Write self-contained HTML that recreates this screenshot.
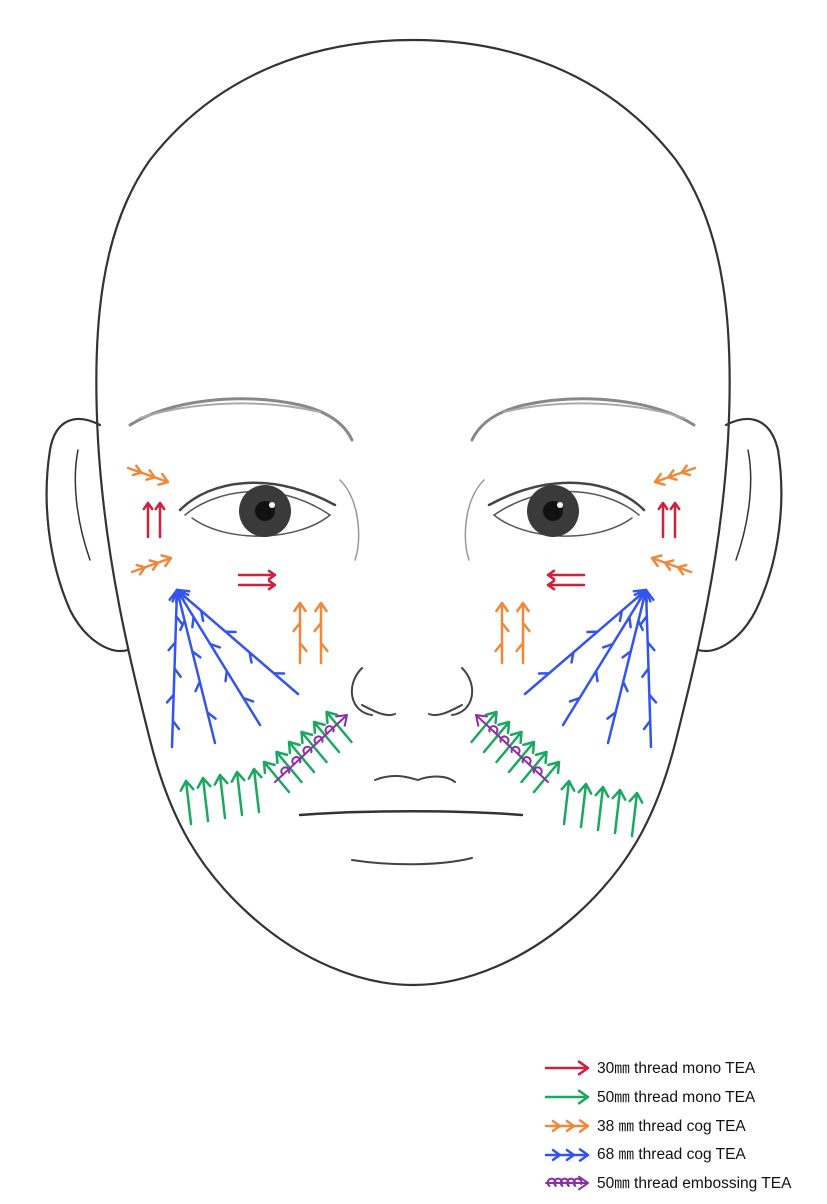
<!DOCTYPE html>
<html><head><meta charset="utf-8"><style>
html,body{margin:0;padding:0;background:#fff;}
svg{display:block;}
text{font-family:"Liberation Sans","Noto Sans CJK KR",sans-serif;}
</style></head><body>
<svg id="s" width="827" height="1204" viewBox="0 0 827 1204" xmlns="http://www.w3.org/2000/svg">
<g fill="none" stroke="#333" stroke-width="2.2" stroke-linecap="round">
<path d="M413,985 C360,985 300,960 250,915 C200,870 170,820 150,740 C130,660 105,560 98,440 C92,330 100,230 150,160 C220,70 320,40 413,40 C506,40 606,70 676,160 C726,230 734,330 728,440 C721,560 696,660 676,740 C656,820 626,870 576,915 C526,960 466,985 413,985"/>
<path d="M100,425 C75,412 55,420 50,450 C42,500 48,560 70,610 C85,640 110,655 128,650" />
<path d="M78,450 C72,480 76,520 90,560" stroke-width="1.5"/>
<path d="M726,425 C751,412 771,420 778,450 C786,500 780,560 756,610 C741,640 716,655 698,650"/>
<path d="M748,450 C754,480 750,520 736,560" stroke-width="1.5"/>
</g>
<g fill="none" stroke="#555" stroke-width="1.5" stroke-linecap="round">
<path d="M130,425 C170,400 240,392 300,405 C330,412 345,425 352,440" stroke-width="3" stroke="#888"/>
<path d="M140,418 C190,402 260,398 320,412" stroke="#aaa" stroke-width="2"/>
<path d="M694,425 C654,400 584,392 524,405 C494,412 479,425 472,440" stroke-width="3" stroke="#888"/>
<path d="M684,418 C634,402 564,398 504,412" stroke="#aaa" stroke-width="2"/>
<path d="M185,515 C215,490 275,478 330,515 C300,540 230,545 192,518"/>
<path d="M180,510 C210,480 270,470 335,505" stroke="#444" stroke-width="2.5"/>
<path d="M639,515 C609,490 549,478 494,515 C524,540 594,545 632,518"/>
<path d="M644,510 C614,480 554,470 489,505" stroke="#444" stroke-width="2.5"/>
<path d="M340,480 C360,500 362,540 355,560" stroke="#999"/>
<path d="M484,480 C464,500 462,540 469,560" stroke="#999"/>
<path d="M362,668 C345,685 350,712 372,715 M362,705 C372,710 385,718 395,714" stroke="#444" stroke-width="2"/>
<path d="M462,668 C479,685 474,712 452,715 M462,705 C452,710 439,718 429,714" stroke="#444" stroke-width="2"/>
<path d="M375,780 C395,772 410,778 418,780 C428,776 445,774 455,782" stroke="#444" stroke-width="2"/>
<path d="M300,815 C360,810 460,810 522,815" stroke="#333" stroke-width="2.5"/>
<path d="M352,860 C390,866 440,866 472,858" stroke="#444" stroke-width="2"/>
</g>
<circle cx="265" cy="511" r="26" fill="#3a3a3a"/><circle cx="265" cy="511" r="10" fill="#111"/><circle cx="272" cy="505" r="3" fill="#fff"/>
<circle cx="553" cy="511" r="26" fill="#3a3a3a"/><circle cx="553" cy="511" r="10" fill="#111"/><circle cx="560" cy="505" r="3" fill="#fff"/>
<g id="L"></g>
<g id="R" transform="translate(823,0) scale(-1,1)"></g>
<g id="G"></g>
<g font-size="15.5" fill="#111">
<text x="597" y="1073">30㎜ thread mono TEA</text>
<text x="597" y="1102">50㎜ thread mono TEA</text>
<text x="597" y="1131">38 ㎜ thread cog TEA</text>
<text x="597" y="1159">68 ㎜ thread cog TEA</text>
<text x="597" y="1188">50㎜ thread embossing TEA</text>
</g>
</svg>
<script>
var NS="http://www.w3.org/2000/svg";
function P(g,d,c,w){var p=document.createElementNS(NS,"path");p.setAttribute("d",d);p.setAttribute("fill","none");p.setAttribute("stroke",c);p.setAttribute("stroke-width",w||2.5);p.setAttribute("stroke-linecap","round");p.setAttribute("stroke-linejoin","round");g.appendChild(p);}
function head(x1,y1,x2,y2,s){var dx=x2-x1,dy=y2-y1,L=Math.hypot(dx,dy),ux=dx/L,uy=dy/L,px=-uy,py=ux;
return "M"+(x2-ux*s+px*s*0.7)+","+(y2-uy*s+py*s*0.7)+" L"+x2+","+y2+" L"+(x2-ux*s-px*s*0.7)+","+(y2-uy*s-py*s*0.7);}
function mono(g,x1,y1,x2,y2,c,s){P(g,"M"+x1+","+y1+" L"+x2+","+y2+" "+head(x1,y1,x2,y2,s||9),c);}
function cog(g,x1,y1,x2,y2,n,c,s){var d="M"+x1+","+y1+" L"+x2+","+y2+" "+head(x1,y1,x2,y2,s||9);
var dx=x2-x1,dy=y2-y1,L=Math.hypot(dx,dy),ux=dx/L,uy=dy/L,px=-uy,py=ux;
for(var i=1;i<=n;i++){var t=i/(n+1),bx=x1+dx*t,by=y1+dy*t,sd=(i%2?1:-1);var b=8;
d+=" M"+(bx-ux*b+px*b*sd*0.8)+","+(by-uy*b+py*b*sd*0.8)+" L"+bx+","+by;}
P(g,d,c);}
function cog2(g,x1,y1,x2,y2,n,c){var d="M"+x1+","+y1+" L"+x2+","+y2+" "+head(x1,y1,x2,y2,8);
var dx=x2-x1,dy=y2-y1;for(var i=1;i<=n;i++){var t=i/(n+1);d+=" "+head(x1,y1,x1+dx*t,y1+dy*t,7);}P(g,d,c);}
function emb(g,x1,y1,x2,y2,n,c){var d="M"+x1+","+y1+" L"+x2+","+y2+" "+head(x1,y1,x2,y2,9);
var dx=x2-x1,dy=y2-y1;for(var i=1;i<=n;i++){var t=i/(n+1.5),bx=x1+dx*t,by=y1+dy*t;d+=" M"+(bx-3)+","+(by+3)+" a4,4 0 1 1 6,-2";}P(g,d,c,2);}
function side(g,dy2){
var O="#f0883a",Rd="#d0203c",B="#3355ee",Gr="#1aa860",Pu="#8a2fa8";
cog2(g,128,468,168,482,2,O);cog2(g,132,572,171,558,2,O);
mono(g,148,537,148,503,Rd,6);mono(g,160,537,160,503,Rd,6);
mono(g,239,575,275,575,Rd,6);mono(g,239,585,275,585,Rd,6);
cog(g,300,663,300,603,2,O,8);cog(g,321,663,321,603,2,O,8);
cog(g,172,747,177,590,5,B,10);cog(g,215,743,177,590,4,B,10);cog(g,260,725,177,590,4,B,10);cog(g,298,694,177,590,4,B,10);
for(var i=0;i<5;i++){mono(g,191+i*17,824+dy2-i*3,186+i*17,781+dy2-i*3,Gr,9);}
for(var i=0;i<6;i++){var bx=289+i*12.5,by=792-i*10;mono(g,bx,by,bx-25,by-30,Gr,9);}
emb(g,275,782,347,715,5,Pu);
}
side(document.getElementById("L"),0);side(document.getElementById("R"),12);
var G=document.getElementById("G");
mono(G,546,1068,588,1068,"#d0203c",9);mono(G,546,1097,588,1097,"#1aa860",9);
cog2(G,546,1126,588,1126,2,"#f0883a");cog2(G,546,1155,588,1155,2,"#3355ee");
emb(G,546,1183,588,1183,5,"#8a2fa8");
</script>
</body></html>
